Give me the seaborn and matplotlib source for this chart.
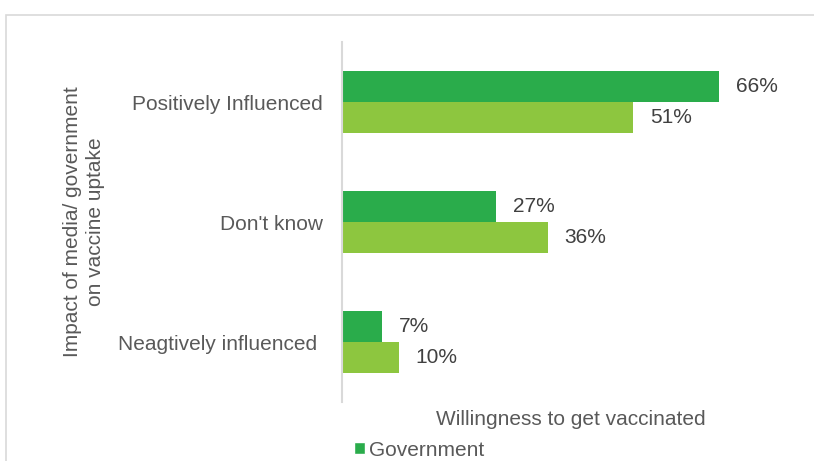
import matplotlib
matplotlib.use("Agg")
import matplotlib.pyplot as plt
from matplotlib.patches import Rectangle, Patch
import seaborn as sns
import pandas as pd

categories = ["Positively Influenced", "Don't know", "Neagtively influenced "]
series_names = ["Government", "Media"]
government = [66, 27, 7]
media = [51, 36, 10]
colors = ["#2AAC4B", "#8DC63F"]

df = pd.DataFrame({
    "impact": categories * 2,
    "source": [series_names[0]] * 3 + [series_names[1]] * 3,
    "value": government + media,
})

sns.set_theme(style="white")
plt.rcParams["font.family"] = ["Liberation Sans", "DejaVu Sans"]
text_color = "#595959"
fs = 15

W, H = 814, 461
fig = plt.figure(figsize=(W / 100, H / 100), dpi=100)
ax = fig.add_axes([342 / W, 1 - 402 / H, (799 - 342) / W, (402 - 42) / H])

sns.barplot(data=df, y="impact", x="value", hue="source", orient="h",
            order=categories, hue_order=series_names,
            palette=colors, width=0.52, saturation=1, linewidth=0,
            ax=ax, legend=False)

for container in ax.containers:
    ax.bar_label(container, labels=[f"{v:.0f}%" for v in container.datavalues],
                 padding=12, fontsize=fs, color="#404040")

ax.set_xlim(0, 80)
ax.set_xticks([])
ax.set_xlabel("Willingness to get vaccinated", fontsize=fs, color=text_color, labelpad=6)
ax.set_ylabel("")
ax.tick_params(axis="y", length=0, pad=14, labelsize=fs, labelcolor=text_color)
for side in ["top", "right", "bottom"]:
    ax.spines[side].set_visible(False)
ax.spines["left"].set_color("#D9D9D9")
ax.spines["left"].set_linewidth(1.5)

fig.text(84 / W, 1 - 222 / H, "Impact of media/ government\non vaccine uptake",
         rotation=90, ha="center", va="center", multialignment="center",
         fontsize=fs, color=text_color, linespacing=1.3)

handles = [Patch(facecolor=colors[0], label=series_names[0])]
fig.legend(handles=handles, loc="center left", bbox_to_anchor=(354 / W, 1 - 450 / H),
           frameon=False, fontsize=fs, handlelength=0.55, handleheight=0.55,
           handletextpad=0.15, borderaxespad=0, borderpad=0, labelcolor=text_color)

fig.patches.append(Rectangle((6 / W, -0.1), 1.2, 1 - 15 / H + 0.1, transform=fig.transFigure,
                             fill=False, edgecolor="#D9D9D9", linewidth=1.2))

fig.savefig("out.png", dpi=100)
